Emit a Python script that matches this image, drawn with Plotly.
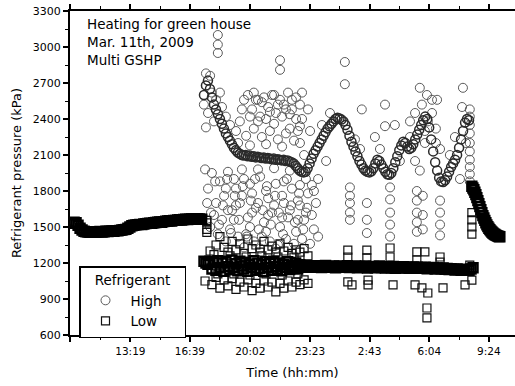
import plotly.graph_objects as go

# Time axis: minutes since 00:00, Mar. 11th 2009 (values > 1440 are after midnight)
tick_minutes = [597, 799, 999, 1202, 1403, 1603, 1804, 2004]
tick_labels = ["", "13:19", "16:39", "20:02", "23:23", "2:43", "6:04", "9:24"]
minor_minutes = [698, 899, 1100, 1302, 1503, 1703, 1904]
y_ticks = [600, 900, 1200, 1500, 1800, 2100, 2400, 2700, 3000, 3300]

# Logger interval (min) for the continuously logged parts
log_step = 6.7

# Before start-up: equalized pressure (both sides), logged from 10:03
idle_start = 603
idle_p = [1530, 1540, 1535, 1515, 1490, 1475, 1465, 1460, 1458, 1455,
          1458, 1460, 1455, 1460, 1462, 1458, 1460, 1465, 1462, 1465,
          1468, 1465, 1470, 1468, 1472, 1475, 1478, 1480, 1490, 1500,
          1510, 1515, 1518, 1520, 1522, 1520, 1525, 1528, 1530, 1532,
          1530, 1535, 1538, 1540, 1542, 1540, 1545, 1548, 1550, 1552,
          1550, 1555, 1555, 1558, 1560, 1558, 1562, 1565, 1562, 1565,
          1568, 1565, 1568, 1570, 1568, 1565]

# Operation: main high-side trend
run_start = 1046.4
high_trend_p = [2600, 2680, 2720, 2650, 2580, 2520, 2480, 2440, 2400, 2360,
                2320, 2280, 2250, 2220, 2190, 2160, 2140, 2120, 2110, 2100,
                2095, 2100, 2090, 2095, 2085, 2090, 2080, 2085, 2080, 2075,
                2080, 2070, 2075, 2070, 2065, 2070, 2060, 2065, 2060, 2055,
                2060, 2050, 2055, 2045, 2040, 2030, 2010, 1990, 1970, 1960,
                1955, 1960, 1990, 2030, 2070, 2110, 2140, 2170, 2200, 2230,
                2260, 2290, 2320, 2340, 2360, 2380, 2400, 2410, 2405, 2395,
                2380, 2350, 2310, 2260, 2210, 2170, 2130, 2090, 2050, 2020,
                1990, 1970, 1960, 1955, 1965, 1990, 2030, 2060, 2050, 2020,
                1990, 1960, 1940, 1935, 1950, 1990, 2040, 2090, 2140, 2180,
                2210, 2200, 2170, 2150, 2160, 2190, 2230, 2270, 2310, 2350,
                2390, 2420, 2400, 2330, 2230, 2130, 2040, 1970, 1910, 1880,
                1875, 1890, 1920, 1960, 2000, 2030, 2060, 2100, 2160, 2230,
                2300, 2370, 2400, 2390]

# Operation: main low-side trend
low_trend_p = [1215, 1200, 1190, 1215, 1150, 1205, 1140, 1220, 1160, 1200,
               1130, 1210, 1170, 1145, 1225, 1160, 1195, 1135, 1215, 1175,
               1150, 1205, 1130, 1190, 1165, 1220, 1140, 1200, 1155, 1185,
               1130, 1210, 1160, 1195, 1140, 1215, 1170, 1150, 1200, 1135,
               1190, 1165, 1210, 1145, 1180, 1160, 1200, 1150, 1185, 1170,
               1165, 1180, 1170, 1175,
               1172, 1165, 1178, 1168, 1175, 1162, 1170, 1180, 1165, 1172,
               1168, 1176, 1160, 1170, 1175, 1165, 1172, 1168, 1178, 1162,
               1170, 1165, 1175, 1160, 1172, 1168, 1165, 1175, 1158, 1170,
               1165, 1172, 1160, 1168, 1175, 1162, 1170, 1158, 1168, 1165,
               1160, 1172, 1155, 1168, 1162, 1158, 1170, 1160, 1165, 1155,
               1162, 1168, 1158, 1165, 1155, 1162, 1158, 1165, 1152, 1160,
               1155, 1162, 1150, 1158, 1155,
               1152, 1158, 1148, 1155, 1145, 1152, 1148, 1142, 1150, 1145,
               1140, 1148, 1142, 1145, 1140, 1150, 1160]

# Shut-down: pressure equalization (logged every 3.36 min)
stop_start = 1947
stop_step = 3.36
stop_p = [1840, 1825, 1810, 1790, 1770, 1745, 1720, 1695, 1670, 1645,
          1620, 1595, 1575, 1555, 1535, 1518, 1503, 1490, 1478, 1468,
          1458, 1450, 1443, 1437, 1432, 1428, 1424, 1421, 1419]

# Scattered high-side readings (time, kPa)
high_pts_t = [1093, 1093, 1093, 1302, 1302, 1520, 1520, 1577, 1655, 1655, 1830, 1917, 1772, 1940,
              1053, 1067, 1073, 1060, 1080, 1087, 1100, 1107, 1120, 1134, 1046, 1053,
              1154, 1167, 1181, 1194, 1208, 1221, 1235, 1248, 1262, 1275, 1288, 1302, 1315, 1329,
              1342, 1356, 1369, 1376, 1188, 1214, 1241, 1268, 1295, 1322, 1349, 1362, 1161, 1201,
              1255, 1309, 1335, 1228, 1282,
              1174, 1201, 1214, 1241, 1255, 1268, 1295, 1309, 1322, 1342, 1356, 1369, 1228, 1282,
              1335,
              1050, 1060, 1073, 1087, 1100, 1114, 1127, 1141, 1154, 1167, 1181, 1194, 1208, 1221,
              1235, 1248, 1262, 1275, 1288, 1302, 1315, 1329, 1342, 1356, 1369, 1383, 1396, 1107,
              1134, 1161, 1188, 1214, 1241, 1268, 1295, 1322, 1349, 1376, 1080, 1120, 1174, 1228,
              1282, 1335, 1389, 1093, 1147, 1201, 1255, 1309, 1362, 1067, 1181, 1235, 1288, 1409,
              1416, 1423, 1403,
              1120, 1147, 1174, 1201, 1228, 1255, 1282, 1309, 1335, 1362, 1389, 1127, 1154, 1208,
              1262, 1315, 1369,
              1057, 1070, 1084, 1097, 1110, 1124, 1137, 1150, 1164, 1177, 1190, 1204, 1218, 1231,
              1244, 1258, 1271, 1285, 1298, 1312, 1325, 1339, 1352, 1366, 1380, 1393,
              1369, 1383, 1409, 1430, 1443, 1457, 1470, 1376, 1396, 1403, 1416, 1430,
              1537, 1537, 1537, 1537, 1537, 1594, 1594, 1594,
              1672, 1672, 1672, 1672, 1672, 1762, 1762, 1762, 1762, 1762,
              1782, 1782, 1782, 1840, 1840, 1840, 1840,
              1554, 1571, 1621, 1638, 1688, 1705, 1739, 1756, 1772, 1789, 1813, 1826, 1840, 1873,
              1890, 1907, 1914, 1927,
              1940, 1940, 1940, 1940, 1940, 1940, 1940, 1940, 1940,
              1756, 1779, 1796, 1799, 1789, 1813, 1739, 1826]
high_pts_p = [3100, 3020, 2950, 2890, 2810, 2875, 2690, 2480, 2520, 2340, 2560, 2660, 2660, 2480,
              2780, 2760, 2620, 2450, 2380, 2560, 2620, 2500, 2420, 2350, 2520, 2330,
              2300, 2380, 2560, 2600, 2480, 2560, 2420, 2580, 2500, 2600, 2450, 2560, 2520, 2620,
              2480, 2580, 2520, 2400, 2260, 2320, 2250, 2300, 2230, 2280, 2220, 2300, 2200, 2180,
              2190, 2170, 2320, 2380, 2360,
              2480, 2420, 2620, 2540, 2400, 2460, 2520, 2420, 2480, 2560, 2400, 2340, 2560, 2600,
              2440,
              1980, 1820, 1950, 1700, 1880, 1760, 1960, 1640, 1820, 1700, 1900, 1580, 1780, 1660,
              1920, 1540, 1740, 1620, 1860, 1500, 1700, 1580, 1820, 1460, 1680, 1560, 1780, 1560,
              1480, 1420, 1440, 1380, 1420, 1380, 1350, 1400, 1360, 1400, 1600, 1380, 1980, 1980,
              1990, 1970, 1900, 1440, 1560, 1500, 1460, 1580, 1560, 1500, 1330, 1320, 1320, 1600,
              1480, 1700, 1360,
              1820, 1900, 1760, 1860, 1700, 1800, 1680, 1760, 1640, 1720, 1620, 1640, 1680, 1620,
              1600, 1880, 1850,
              1700, 1620, 1880, 1520, 1680, 1900, 1450, 1760, 1560, 1840, 1420, 1720, 1900, 1480,
              1640, 1840, 1520, 1760, 1620, 1440, 1900, 1680, 1540, 1780, 1480, 1660,
              2200, 2100, 1850, 1900, 2350, 2050, 2450, 2620, 2480, 2300, 1800, 1420,
              1830, 1760, 1700, 1620, 1560, 1700, 1560, 1450,
              1830, 1730, 1620, 1520, 1420, 1800, 1720, 1620, 1540, 1460,
              1760, 1600, 1480, 1720, 1620, 1520, 1430,
              2230, 2150, 2250, 2150, 2350, 2050, 2380, 2050, 1970, 2200, 2450, 2200, 2150, 2100,
              2250, 1900, 2500, 2200,
              2420, 2350, 2280, 2200, 2130, 2060, 2000, 1940, 1880,
              2450, 2520, 2600, 2380, 2300, 2560, 2250, 2320]

# Scattered low-side readings (time, kPa)
low_pts_t = [1067, 1087, 1100, 1114, 1127, 1141, 1154, 1167, 1181, 1194, 1208, 1221, 1235, 1248,
             1262, 1275, 1288, 1302, 1315, 1329, 1342, 1356, 1369, 1383, 1396, 1080, 1134, 1188,
             1241, 1295, 1349,
             1050, 1073, 1087, 1100, 1114, 1127, 1141, 1154, 1167, 1181, 1194, 1208, 1221, 1235,
             1248, 1262, 1275, 1288, 1302, 1315, 1329, 1342, 1356, 1369, 1383, 1396, 1093, 1147,
             1201, 1255, 1309, 1362,
             1056, 1056, 1056, 1056,
             1530, 1530, 1594, 1594, 1672, 1672, 1762, 1789, 1762, 1840, 1840, 1940,
             1530, 1544, 1598, 1598, 1682, 1756, 1779, 1799, 1796, 1796, 1850, 1924, 1947,
             1947, 1947, 1947, 1947]
low_pts_p = [1300, 1350, 1420, 1330, 1290, 1380, 1310, 1360, 1280, 1400, 1320, 1350, 1290, 1380,
             1310, 1340, 1290, 1360, 1300, 1330, 1280, 1310, 1290, 1320, 1260, 1270, 1260, 1250,
             1260, 1250, 1250,
             1050, 1020, 1080, 990, 1060, 1010, 1070, 980, 1040, 1000, 1060, 970, 1030, 990,
             1050, 1000, 1040, 960, 1030, 990, 1050, 1000, 1040, 1020, 1060, 1030, 1110, 1110,
             1100, 1110, 1100, 1110,
             1555, 1535, 1480, 1455,
             1308, 1250, 1308, 1242, 1325, 1250, 1292, 1292, 1225, 1250, 1208, 1183,
             1042, 1017, 1017, 1058, 1017, 1017, 992, 950, 825, 742, 992, 1017, 1058,
             1620, 1560, 1500, 1440]


def logged(start, step, values):
    return [start + i * step for i in range(len(values))]


idle_t = logged(idle_start, log_step, idle_p)
high_trend_t = logged(run_start, log_step, high_trend_p)
low_trend_t = logged(run_start, log_step, low_trend_p)
stop_t = logged(stop_start, stop_step, stop_p)

FONT = "DejaVu Sans, Liberation Sans, Arial, sans-serif"

HIGH_SCATTER = dict(symbol="circle-open", size=9, color="#5a5a5a", line=dict(width=1))
HIGH_DENSE = dict(symbol="circle-open", size=9, color="#2a2a2a", line=dict(width=1.5))
LOW_SCATTER = dict(symbol="square-open", size=8, color="#111111", line=dict(width=1.2))
LOW_DENSE = dict(symbol="square-open", size=9, color="#000000", line=dict(width=2.4))

fig = go.Figure()
# High side
fig.add_trace(go.Scatter(x=high_pts_t, y=high_pts_p, mode="markers", name="High\u00a0\u00a0\u00a0\u00a0",
                         legendgroup="high", marker=HIGH_SCATTER))
fig.add_trace(go.Scatter(x=high_trend_t, y=high_trend_p, mode="markers", legendgroup="high",
                         showlegend=False, marker=HIGH_DENSE))
fig.add_trace(go.Scatter(x=idle_t, y=idle_p, mode="markers", legendgroup="high",
                         showlegend=False, marker=HIGH_DENSE))
fig.add_trace(go.Scatter(x=stop_t, y=stop_p, mode="markers", legendgroup="high",
                         showlegend=False, marker=HIGH_DENSE))
# Low side
fig.add_trace(go.Scatter(x=low_pts_t, y=low_pts_p, mode="markers", name="Low",
                         legendgroup="low", marker=LOW_SCATTER))
fig.add_trace(go.Scatter(x=low_trend_t, y=low_trend_p, mode="markers", legendgroup="low",
                         showlegend=False, marker=LOW_DENSE))
fig.add_trace(go.Scatter(x=idle_t, y=idle_p, mode="markers", legendgroup="low",
                         showlegend=False, marker=LOW_DENSE))
fig.add_trace(go.Scatter(x=stop_t, y=stop_p, mode="markers", legendgroup="low",
                         showlegend=False, marker=LOW_DENSE))

fig.update_layout(
    width=515, height=386,
    margin=dict(l=70, r=0, t=11, b=51),
    paper_bgcolor="white", plot_bgcolor="white",
    font=dict(family=FONT, color="black", size=12),
    showlegend=True,
    legend=dict(
        x=(79 - 70) / 445, y=(335 - 266) / 324, xanchor="left", yanchor="top",
        bordercolor="black", borderwidth=1.5, bgcolor="white",
        font=dict(size=13.5),
        title=dict(text="Refrigerant", side="top center", font=dict(size=13.5)),
        itemwidth=40, tracegroupgap=0,
    ),
    xaxis=dict(
        range=[596, 2092],
        tickmode="array", tickvals=tick_minutes, ticktext=tick_labels,
        ticks="outside", ticklen=5, tickwidth=1.5, tickcolor="black",
        minor=dict(tickmode="array", tickvals=minor_minutes, ticks="outside",
                   ticklen=3, tickwidth=1.2, tickcolor="black"),
        showline=True, linecolor="black", linewidth=2, mirror="ticks",
        showgrid=False, zeroline=False,
        tickfont=dict(size=10.5),
        title=dict(text="Time (hh:mm)", font=dict(size=13), standoff=12),
    ),
    yaxis=dict(
        range=[600, 3300],
        tickmode="array", tickvals=y_ticks,
        ticks="outside", ticklen=5, tickwidth=1.5, tickcolor="black",
        minor=dict(tickmode="array", tickvals=[v + 150 for v in y_ticks[:-1]], ticks="outside",
                   ticklen=3, tickwidth=1.2, tickcolor="black"),
        showline=True, linecolor="black", linewidth=2,
        showgrid=False, zeroline=False,
        tickfont=dict(size=11),
        title=dict(text="Refrigerant pressure (kPa)", font=dict(size=13), standoff=8),
    ),
)

notes = ["Heating for green house", "Mar. 11th, 2009", "Multi GSHP"]
for i, txt in enumerate(notes):
    fig.add_annotation(
        text=txt, xref="paper", yref="paper",
        x=(85 - 70) / 445, y=(335 - 14 - 18 * i) / 324,
        xanchor="left", yanchor="top", showarrow=False,
        font=dict(size=13.5, family=FONT),
    )

fig.write_html("out.html")
